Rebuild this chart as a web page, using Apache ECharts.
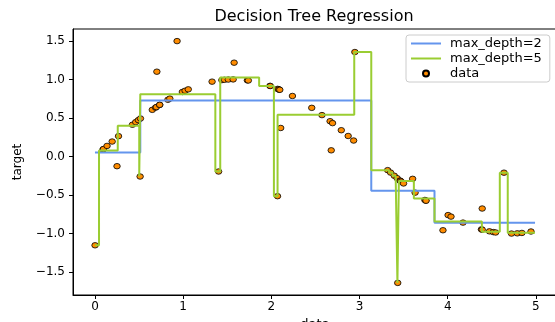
<!DOCTYPE html>
<html><head><meta charset="utf-8">
<script src="https://cdn.jsdelivr.net/npm/echarts@6/dist/echarts.min.js"></script>
<style>html,body{margin:0;padding:0;background:#fff}#c{width:555px;height:322px}</style>
</head><body><div id="c"></div>
<script>
// scatter data (x, target)
const dataX = [0.001,0.091,0.097,0.137,0.195,0.250,0.267,0.425,0.462,0.492,
  0.512,0.516,0.650,0.687,0.696,0.702,0.734,0.734,0.827,0.849,
  0.931,0.991,1.022,1.058,1.328,1.402,1.439,1.468,1.512,1.567,
  1.578,1.728,1.739,1.984,1.988,2.070,2.071,2.085,2.087,2.096,
  2.106,2.239,2.458,2.574,2.666,2.679,2.694,2.793,2.871,2.933,
  2.947,3.319,3.352,3.394,3.426,3.433,3.459,3.462,3.472,3.499,
  3.602,3.630,3.741,3.751,3.754,3.946,4.004,4.037,4.173,4.382,
  4.391,4.391,4.473,4.517,4.543,4.638,4.723,4.789,4.841,4.944];
const dataY = [-1.152,0.091,0.097,0.137,0.194,-0.126,0.264,0.412,0.446,0.472,
  -0.260,0.493,0.605,0.634,0.641,1.100,0.670,0.670,0.736,0.751,
  1.497,0.837,0.853,0.871,0.971,-0.195,0.991,0.995,0.998,1.000,
  1.217,0.988,0.986,0.916,0.914,-0.515,0.877,0.870,0.869,0.865,
  0.370,0.785,0.631,0.537,0.458,0.080,0.433,0.341,0.266,0.207,
  1.355,-0.177,-0.209,-0.250,-0.281,-1.640,-0.313,-0.316,-0.325,-0.350,
  -0.290,-0.469,-0.564,-0.572,-0.574,-0.957,-0.760,-0.780,-0.858,-0.946,
  -0.675,-0.949,-0.971,-0.981,-0.986,-0.210,-1.000,-0.997,-0.992,-0.973];
// tree predictions: leaf start x and leaf value
const depth2Edges = [0, 0.514, 3.133, 3.85];
const depth2Values = [0.052, 0.727, -0.446, -0.861];
const depth5Edges = [0, 0.046, 0.2585, 0.502, 0.514, 1.365, 1.4205, 1.8615, 2.029, 2.0705,
  2.94, 3.133, 3.3355, 3.373, 3.41, 3.4295, 3.446, 3.616, 3.85, 4.387, 4.5905, 4.6805];
const depth5Values = [-1.152, 0.079, 0.399, -0.260, 0.809, -0.195, 1.025, 0.915, -0.515, 0.542,
  1.355, -0.177, -0.209, -0.250, -0.281, -1.640, -0.319, -0.545, -0.845, -0.975, -0.210, -0.990];
const xEnd = 4.99;
const xTicks = [0, 1, 2, 3, 4, 5];
const yTicks = [-1.5, -1.0, -0.5, 0.0, 0.5, 1.0, 1.5];

function stepData(edges, vals) {
  const d = edges.map((e, i) => [e, vals[i]]);
  d.push([xEnd, vals[vals.length - 1]]);
  return d;
}
const font = 'DejaVu Sans';
const chart = echarts.init(document.getElementById('c'), null, {renderer: 'canvas'});
chart.setOption({
  animation: false,
  backgroundColor: '#fff',
  title: {text: 'Decision Tree Regression', left: 314, top: 9, padding: 0, textAlign: 'center',
    textStyle: {fontFamily: font, fontSize: 16, fontWeight: 'normal', color: '#000'}},
  grid: {left: 73, top: 29, width: 484, height: 266, show: true, borderColor: '#000', borderWidth: 1,
    backgroundColor: 'transparent', outerBoundsMode: 'none', containLabel: false},
  legend: {
    orient: 'vertical', left: 406, top: 35, padding: [2, 8, 2, 4], itemGap: 2,
    itemWidth: 30, itemHeight: 6,
    backgroundColor: 'rgba(255,255,255,0.8)', borderColor: '#cccccc', borderWidth: 1, borderRadius: 3,
    textStyle: {fontFamily: font, fontSize: 13, color: '#000', lineHeight: 13, padding: [0, 0, 0, 4]},
    data: [
      {name: 'max_depth=2', itemStyle: {opacity: 0}},
      {name: 'max_depth=5', itemStyle: {opacity: 0}},
      {name: 'data', icon: 'circle'}
    ]
  },
  xAxis: {
    type: 'value', min: -0.249, max: 5.239,
    name: 'data', nameLocation: 'middle', nameGap: 21,
    nameTextStyle: {fontFamily: font, fontSize: 13, color: '#000'},
    axisLine: {show: true, onZero: false, lineStyle: {color: '#000', width: 1}},
    axisTick: {show: true, length: 4, customValues: xTicks, lineStyle: {color: '#000'}},
    axisLabel: {customValues: xTicks, fontFamily: font, fontSize: 12, color: '#000', margin: 6,
      formatter: v => String(v)},
    splitLine: {show: false}
  },
  yAxis: {
    type: 'value', min: -1.797, max: 1.654,
    name: 'target', nameLocation: 'middle', nameGap: 49,
    nameTextStyle: {fontFamily: font, fontSize: 12, color: '#000'},
    axisLine: {show: true, onZero: false, lineStyle: {color: '#000', width: 1}},
    axisTick: {show: true, length: 4, customValues: yTicks, lineStyle: {color: '#000'}},
    axisLabel: {customValues: yTicks, fontFamily: font, fontSize: 12, color: '#000', margin: 8,
      formatter: v => v.toFixed(1).replace('-', '\u2212')},
    splitLine: {show: false}
  },
  series: [
    {name: 'data', type: 'scatter', z: 1,
      symbol: 'path://M-1,0A1,1,0,1,1,1,0A1,1,0,1,1,-1,0Z', symbolSize: [6.5, 5.5],
      itemStyle: {color: '#ff8c00', borderColor: '#000', borderWidth: 0.8, opacity: 1},
      data: dataX.map((x, i) => [x, dataY[i]])},
    {name: 'max_depth=2', type: 'line', z: 2, step: 'end', symbol: 'none', showSymbol: false,
      lineStyle: {color: '#6495ed', width: 2}, itemStyle: {color: '#6495ed'},
      data: stepData(depth2Edges, depth2Values)},
    {name: 'max_depth=5', type: 'line', z: 3, step: 'end', symbol: 'none', showSymbol: false,
      lineStyle: {color: '#9acd32', width: 2}, itemStyle: {color: '#9acd32'},
      data: stepData(depth5Edges, depth5Values)}
  ]
});
</script>
</body></html>
